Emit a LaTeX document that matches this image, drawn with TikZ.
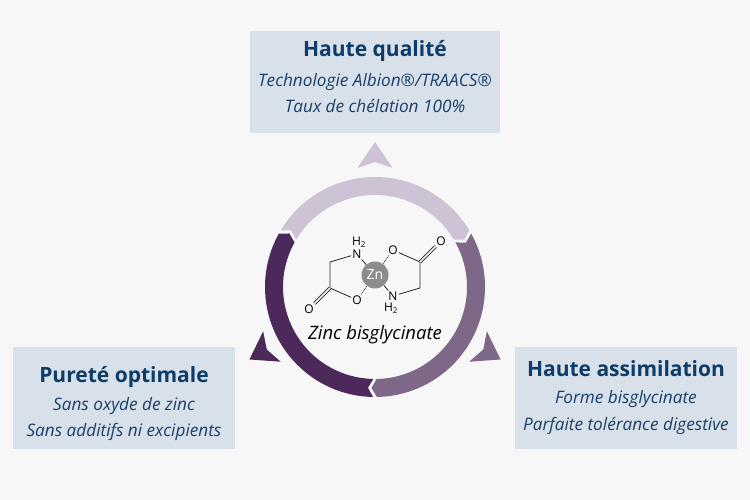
\documentclass[tikz,border=0pt]{standalone}
\usepackage{fontspec}
\setmainfont{Open Sans}

\definecolor{bgcol}{HTML}{F7F7F7}
\definecolor{boxcol}{HTML}{D8E0EA}
\definecolor{titlecol}{HTML}{0D3C66}
\definecolor{textcol}{HTML}{1B4069}
\definecolor{lightring}{HTML}{CDC3D5}
\definecolor{midring}{HTML}{7D6888}
\definecolor{darkring}{HTML}{4C295A}
\definecolor{zncol}{HTML}{8C8C8C}

\begin{document}
\begin{tikzpicture}[x=1pt,y=1pt,
  headline/.style={anchor=base,text=titlecol,font=\fontsize{21}{24}\selectfont\bfseries},
  subline/.style={anchor=base,text=textcol,font=\fontsize{17.2}{20}\selectfont\itshape},
  atom/.style={inner sep=1pt,font=\fontsize{12}{13}\selectfont},
  bond/.style={line width=0.8pt,black!85}]
\fill[bgcol] (0,0) rectangle (750,500);
\useasboundingbox (0,0) rectangle (750,500);

% boxes
\fill[boxcol] (250,367) rectangle (500,469);
\fill[boxcol] (13,51) rectangle (235,153);
\fill[boxcol] (515,51) rectangle (737,153);

\node[headline] (qualite) at (375,443) {Haute qualité};
\node[subline] (albion) at (375,413) {Technologie Albion®/TRAACS®};
\node[subline] (chelation) at (375,387) {Taux de chélation 100\%};

\node[headline] (purete) at (124,117) {Pureté optimale};
\node[subline] (oxyde) at (124,89) {Sans oxyde de zinc};
\node[subline] (additifs) at (124,63) {Sans additifs ni excipients};

\node[headline] (assimil) at (626,123) {Haute assimilation};
\node[subline] (forme) at (626,96) {Forme bisglycinate};
\node[subline] (tolerance) at (626,69) {Parfaite tolérance digestive};

% cycle
\begin{scope}[shift={(375,213)}]
\foreach \b/\col in {150/lightring,30/midring,-90/darkring}{
  \fill[\col] (\b-1:110) arc[start angle=\b-1,end angle=\b-119,radius=110]
    -- (\b-122:101) -- (\b-119:92)
    arc[start angle=\b-119,end angle=\b-1,radius=92] -- (\b-4:101) -- cycle;
  \fill[\col] (\b-60:145) -- (\b-51.6:120.3) -- (\b-60:125) -- (\b-68.4:120.3) -- cycle;
}
\end{scope}

% molecule
\begin{scope}[shift={(375,225)}]
\node[circle,fill=zncol,minimum size=27pt,inner sep=0pt,text=white,
  font=\fontsize{14}{15}\selectfont] (zn) at (0,0) {Zn};
\node[atom] (n1) at (-18,21) {N};
\node[atom] (h1) at (-16,33) {H\textsubscript{2}};
\coordinate (c1) at (-45,13);
\coordinate (c2) at (-45,-13);
\node[atom] (od1) at (-66,-34) {O};
\node[atom] (o1) at (-18,-25) {O};
\node[atom] (n2) at (18,-21) {N};
\node[atom] (h2) at (16,-33) {H\textsubscript{2}};
\coordinate (c3) at (45,13);
\coordinate (c4) at (45,-13);
\node[atom] (od2) at (66,34) {O};
\node[atom] (o2) at (18,25) {O};
\draw[bond] (n1) -- (c1) -- (c2) -- (o1);
\draw[bond,double=bgcol,double distance=1.6pt] (c2) -- (od1);
\draw[bond] (n1) -- (zn);
\draw[bond,densely dotted] (o1) -- (zn);
\draw[bond] (o2) -- (c3) -- (c4) -- (n2);
\draw[bond,double=bgcol,double distance=1.6pt] (c3) -- (od2);
\draw[bond] (n2) -- (zn);
\draw[bond,densely dotted] (o2) -- (zn);
\end{scope}
\node[anchor=base,font=\fontsize{18.5}{21}\selectfont\itshape] (zinc) at (375,160) {Zinc bisglycinate};
\end{tikzpicture}
\end{document}
